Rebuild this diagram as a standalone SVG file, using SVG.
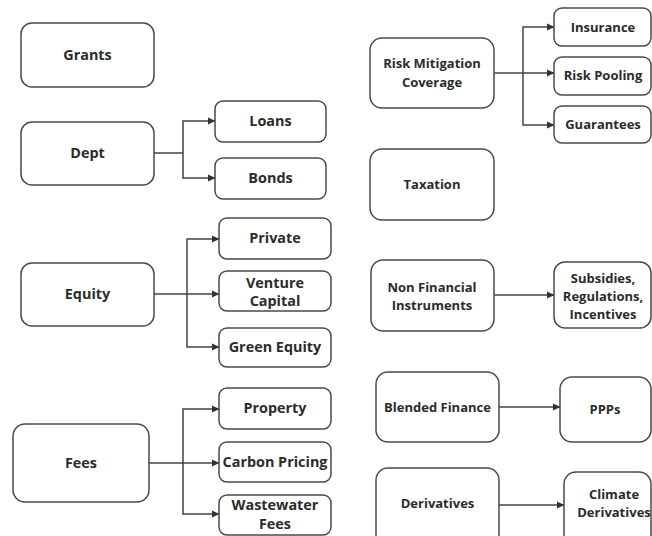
<svg xmlns="http://www.w3.org/2000/svg" width="652" height="536" viewBox="0 0 652 536">
<defs>
<marker id="ah" markerWidth="8" markerHeight="8" refX="7" refY="4" orient="auto" markerUnits="userSpaceOnUse">
<path d="M0,0.5 L7.5,4 L0,7.5 Z" fill="#333"/>
</marker>
<style>
.n rect{fill:#fff;stroke:#4a4a4a;stroke-width:1.5}
.n text{font-family:"Open Sans","Noto Sans","Liberation Sans",sans-serif;font-weight:700;font-size:13px;fill:#2b2b2b;text-anchor:middle}
.l text{font-size:14.4px}
#edges path{fill:none;stroke:#444;stroke-width:1.5}
#edges .a{marker-end:url(#ah)}
</style>
</defs>
<rect x="0" y="0" width="652" height="536" fill="#fff"/>
<g id="edges">
<path d="M154,153 H183"/>
<path class="a" d="M183,153 V121 H215"/>
<path class="a" d="M183,153 V178 H215"/>
<path d="M154,294 H187"/>
<path class="a" d="M187,294 V239 H219"/>
<path class="a" d="M187,294 H219"/>
<path class="a" d="M187,294 V347 H219"/>
<path d="M149,463 H183"/>
<path class="a" d="M183,463 V409 H219"/>
<path class="a" d="M183,463 H219"/>
<path class="a" d="M183,463 V514 H219"/>
<path d="M494,73 H523"/>
<path class="a" d="M523,73 V27 H554"/>
<path class="a" d="M523,73 H554"/>
<path class="a" d="M523,73 V125 H554"/>
<path class="a" d="M494,295 H554"/>
<path class="a" d="M499,407 H560"/>
<path class="a" d="M499,505 H564"/>
</g>
<g id="grants" class="n l"><rect x="21" y="23" width="133" height="64" rx="11"/><text x="87.5" y="55" dy="0.35em">Grants</text></g>
<g id="dept" class="n l"><rect x="21" y="122" width="133" height="63" rx="11"/><text x="87.5" y="153" dy="0.35em">Dept</text></g>
<g id="loans" class="n l"><rect x="215" y="101" width="111" height="41" rx="8"/><text x="270.5" y="121" dy="0.35em">Loans</text></g>
<g id="bonds" class="n l"><rect x="215" y="158" width="111" height="41" rx="8"/><text x="270.5" y="178" dy="0.35em">Bonds</text></g>
<g id="equity" class="n l"><rect x="21" y="263" width="133" height="63" rx="11"/><text x="87.5" y="294" dy="0.35em">Equity</text></g>
<g id="private" class="n l"><rect x="219" y="218" width="112" height="41" rx="8"/><text x="275" y="238" dy="0.35em">Private</text></g>
<g id="venture" class="n l"><rect x="219" y="271" width="112" height="40" rx="8"/><text x="275" y="282.5" dy="0.35em">Venture</text><text x="275" y="300.5" dy="0.35em">Capital</text></g>
<g id="green" class="n l"><rect x="219" y="328" width="112" height="39" rx="8"/><text x="275" y="347" dy="0.35em">Green Equity</text></g>
<g id="fees" class="n l"><rect x="13" y="424" width="136" height="78" rx="12"/><text x="81" y="463" dy="0.35em">Fees</text></g>
<g id="property" class="n l"><rect x="219" y="388" width="112" height="41" rx="8"/><text x="275" y="408" dy="0.35em">Property</text></g>
<g id="carbon" class="n l"><rect x="219" y="442" width="112" height="40" rx="8"/><text x="275" y="462" dy="0.35em">Carbon Pricing</text></g>
<g id="wastewater" class="n l"><rect x="219" y="495" width="112" height="40" rx="8"/><text x="275" y="505" dy="0.35em">Wastewater</text><text x="275" y="524" dy="0.35em">Fees</text></g>
<g id="risk" class="n"><rect x="370" y="38" width="124" height="70" rx="12"/><text x="432" y="63.5" dy="0.35em">Risk Mitigation</text><text x="432" y="82" dy="0.35em">Coverage</text></g>
<g id="insurance" class="n"><rect x="554" y="8" width="97" height="38" rx="8"/><text x="603" y="27" dy="0.35em">Insurance</text></g>
<g id="pooling" class="n"><rect x="554" y="57" width="97" height="38" rx="8"/><text x="603" y="75" dy="0.35em">Risk Pooling</text></g>
<g id="guarantees" class="n"><rect x="554" y="106" width="97" height="37" rx="8"/><text x="603" y="124" dy="0.35em">Guarantees</text></g>
<g id="taxation" class="n"><rect x="370" y="149" width="124" height="71" rx="12"/><text x="432" y="184" dy="0.35em">Taxation</text></g>
<g id="nonfin" class="n"><rect x="371" y="260" width="123" height="71" rx="12"/><text x="432" y="287" dy="0.35em">Non Financial</text><text x="432" y="305" dy="0.35em">Instruments</text></g>
<g id="subsidies" class="n"><rect x="554" y="262" width="97" height="66" rx="11"/><text x="603" y="278" dy="0.35em">Subsidies,</text><text x="603" y="296" dy="0.35em">Regulations,</text><text x="603" y="314" dy="0.35em">Incentives</text></g>
<g id="blended" class="n"><rect x="376" y="372" width="123" height="70" rx="12"/><text x="437.5" y="407" dy="0.35em">Blended Finance</text></g>
<g id="ppps" class="n"><rect x="560" y="377" width="91" height="65" rx="12"/><text x="605" y="409" dy="0.35em">PPPs</text></g>
<g id="derivatives" class="n"><rect x="376" y="468" width="123" height="80" rx="12"/><text x="437.5" y="503" dy="0.35em">Derivatives</text></g>
<g id="climate" class="n"><rect x="564" y="472" width="87" height="76" rx="12"/><text x="614" y="494" dy="0.35em">Climate</text><text x="614" y="512" dy="0.35em">Derivatives</text></g>
</svg>
